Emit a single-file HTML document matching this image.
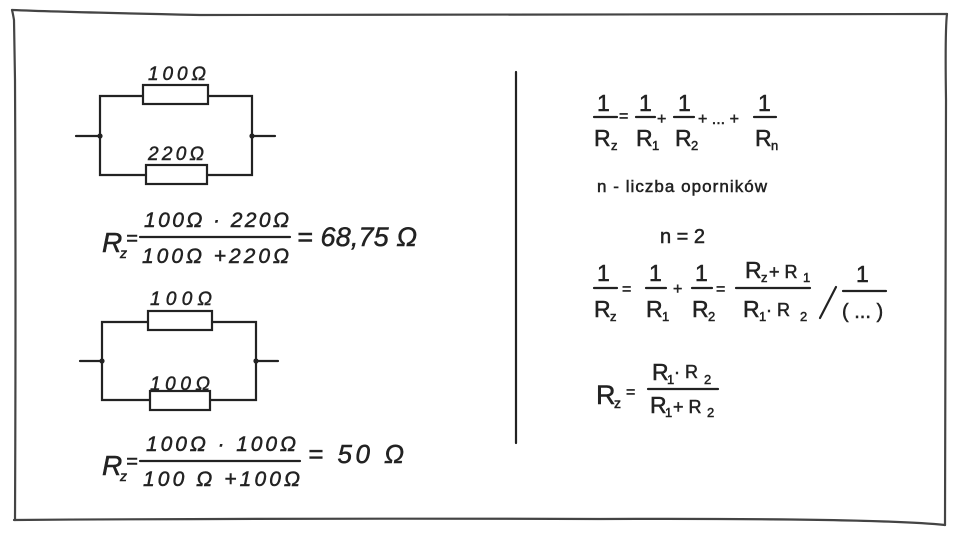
<!DOCTYPE html>
<html><head><meta charset="utf-8"><style>
html,body{margin:0;padding:0;background:#fff;width:960px;height:540px;overflow:hidden}
svg{display:block}
text{font-family:"Liberation Sans","DejaVu Sans",sans-serif;fill:#222;stroke:#222;stroke-width:0.5}
.h{font-style:italic}
</style></head><body>
<svg width="960" height="540" viewBox="0 0 960 540" xmlns="http://www.w3.org/2000/svg">
<g fill="none" stroke="#444" stroke-width="2.2" stroke-linecap="round">
<path d="M12,10 Q13,14 14,20 L15,80 Q16,300 15,520"/>
<path d="M12,10 Q60,12 200,15 Q600,16 947,14"/>
<path d="M947,14 Q945,30 946,100 Q946,400 945,525"/>
<path d="M14,520 Q300,518 600,519 Q880,518 945,525"/>
</g>
<g fill="none" stroke="#222" stroke-width="2.2" stroke-linecap="round">
<path d="M143,96 H100 V175 H146"/>
<path d="M208,96 H252 V175 H207"/>
<rect x="143" y="85" width="65" height="19"/>
<rect x="146" y="165" width="61" height="19"/>
<path d="M76,136 H100 M252,136 H275"/>
<path d="M148,322 H102 V400 H150"/>
<path d="M212,322 H256 V400 H210"/>
<rect x="148" y="311" width="64" height="19"/>
<rect x="150" y="391" width="60" height="19"/>
<path d="M80,361 H102 M256,361 H278"/>
<path d="M516,72 V443"/>
<path d="M140,237 H290"/>
<path d="M140,461 H300"/>
<path d="M594,117 H617 M636,117 H655 M674,117 H694 M754,117 H776"/>
<path d="M594,288 H617 M646,288 H666 M692,288 H712 M736,288 H810"/>
<path d="M820,318 L836,287"/>
<path d="M843,291 H886"/>
<path d="M648,389 H718"/>
</g>
<g fill="#222">
<circle cx="100" cy="136" r="2.6"/><circle cx="252" cy="136" r="2.6"/>
<circle cx="102" cy="361" r="2.6"/><circle cx="256" cy="361" r="2.6"/>
</g>
<g class="h">
<text x="148" y="80" font-size="19" textLength="58">100Ω</text>
<text x="148" y="160" font-size="19" textLength="56">220Ω</text>
<text x="150" y="305" font-size="19" textLength="62">100Ω</text>
<text x="150" y="390" font-size="19" textLength="60">100Ω</text>
<text x="102" y="252" font-size="28">R</text><text x="120" y="258" font-size="14">z</text><text x="126" y="245" font-size="20">=</text>
<text x="144" y="227" font-size="21" textLength="145">100Ω · 220Ω</text>
<text x="142" y="263" font-size="21" textLength="147">100Ω +220Ω</text>
<text x="297" y="246" font-size="27" textLength="120">= 68,75 Ω</text>
<text x="102" y="475" font-size="28">R</text><text x="120" y="481" font-size="14">z</text><text x="126" y="468" font-size="20">=</text>
<text x="146" y="451" font-size="21" textLength="150">100Ω · 100Ω</text>
<text x="143" y="486" font-size="21" textLength="157">100 Ω +100Ω</text>
<text x="308" y="463" font-size="26" textLength="96">= 50 Ω</text>
</g>
<g font-size="23">
<text x="597" y="111">1</text><text x="594" y="146">R</text><text x="611" y="150" font-size="13">z</text>
<text x="619" y="121" font-size="16">=</text>
<text x="639" y="111">1</text><text x="636" y="146">R</text><text x="652" y="150" font-size="13">1</text>
<text x="657" y="124" font-size="16">+</text>
<text x="678" y="111">1</text><text x="675" y="146">R</text><text x="691" y="150" font-size="13">2</text>
<text x="698" y="124" font-size="16">+ ... +</text>
<text x="758" y="111">1</text><text x="755" y="146">R</text><text x="771" y="150" font-size="13">n</text>
</g>
<text x="597" y="192" font-size="17" textLength="170">n - liczba oporników</text>
<text x="660" y="243" font-size="20">n = 2</text>
<g font-size="23">
<text x="597" y="281">1</text><text x="594" y="317">R</text><text x="610" y="321" font-size="13">z</text>
<text x="622" y="294" font-size="16">=</text>
<text x="649" y="281">1</text><text x="646" y="317">R</text><text x="662" y="321" font-size="13">1</text>
<text x="673" y="294" font-size="16">+</text>
<text x="695" y="281">1</text><text x="692" y="317">R</text><text x="708" y="321" font-size="13">2</text>
<text x="716" y="294" font-size="16">=</text>
<text x="745" y="278">R</text><text x="761" y="282" font-size="13">z</text><text x="769" y="278" font-size="18">+ R</text><text x="803" y="282" font-size="13">1</text>
<text x="743" y="317">R</text><text x="759" y="321" font-size="13">1</text><text x="766" y="316" font-size="18">· R</text><text x="800" y="321" font-size="13">2</text>
<text x="856" y="282">1</text><text x="842" y="318" font-size="20">( ... )</text>
<text x="596" y="404" font-size="27">R</text><text x="614" y="408" font-size="14">z</text>
<text x="626" y="397" font-size="16">=</text>
<text x="652" y="380">R</text><text x="667" y="384" font-size="13">1</text><text x="674" y="378" font-size="18">· R</text><text x="704" y="384" font-size="13">2</text>
<text x="650" y="413">R</text><text x="665" y="417" font-size="13">1</text><text x="673" y="413" font-size="18">+ R</text><text x="707" y="417" font-size="13">2</text>
</g>
</svg>
</body></html>
